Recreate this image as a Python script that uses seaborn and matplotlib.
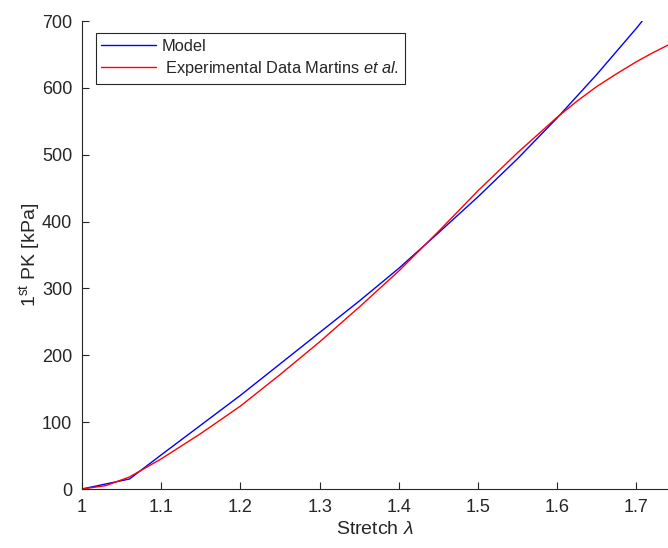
import numpy as np
import pandas as pd
import matplotlib
matplotlib.use("Agg")
import matplotlib.pyplot as plt
import seaborn as sns

# Model curve (blue)
model_stretch = [1.0, 1.06, 1.1, 1.2, 1.3, 1.35, 1.4, 1.45, 1.5, 1.55, 1.6, 1.65, 1.7, 1.7075]
model_pk = [0, 15, 51, 140, 234, 281, 330, 383, 437, 494, 555, 620, 689, 700]

# Experimental data (red)
exp_stretch = [1.0, 1.03, 1.06, 1.1, 1.15, 1.2, 1.25, 1.3, 1.35, 1.4, 1.45, 1.5,
               1.55, 1.6, 1.625, 1.65, 1.675, 1.7, 1.72, 1.74]
exp_pk = [0, 5, 18, 45, 83, 124, 171, 220, 272, 326, 385, 446,
          503, 556, 580, 602, 621, 639, 652, 664]

xticks = [1, 1.1, 1.2, 1.3, 1.4, 1.5, 1.6, 1.7]
xtick_labels = ["1", "1.1", "1.2", "1.3", "1.4", "1.5", "1.6", "1.7"]
yticks = [0, 100, 200, 300, 400, 500, 600, 700]

sns.set_style("ticks")
plt.rcParams["font.family"] = ["Liberation Sans", "DejaVu Sans"]
plt.rcParams["mathtext.fontset"] = "custom"
plt.rcParams["mathtext.rm"] = "Liberation Sans"
plt.rcParams["mathtext.it"] = "Liberation Sans:italic"

fig = plt.figure(figsize=(6.68, 5.48), dpi=100)
ax = fig.add_axes([82 / 668, (548 - 489) / 548, 586 / 668, 468 / 548])

df_model = pd.DataFrame({"x": model_stretch, "y": model_pk})
df_exp = pd.DataFrame({"x": exp_stretch, "y": exp_pk})

sns.lineplot(data=df_model, x="x", y="y", ax=ax, color=(0, 0, 1), lw=1.0,
             sort=False, label="Model")
sns.lineplot(data=df_exp, x="x", y="y", ax=ax, color=(1, 0, 0), lw=1.0,
             sort=False, label=r" Experimental Data Martins $\it{et\ al.}$")

ax.set_xlim(1, 1.74)
ax.set_ylim(0, 700)
ax.set_xticks(xticks)
ax.set_xticklabels(xtick_labels)
ax.set_yticks(yticks)

dark = "#262626"
for s in ["top", "right"]:
    ax.spines[s].set_visible(False)
for s in ["left", "bottom"]:
    ax.spines[s].set_color(dark)
    ax.spines[s].set_linewidth(0.8)
ax.tick_params(axis="both", direction="in", length=5, width=0.8,
               colors=dark, labelsize=13, pad=7)

ax.set_xlabel(r"Stretch $\lambda$", fontsize=14, color=dark, labelpad=4)
ax.set_ylabel(r"1$^{\rm st}$ PK [kPa]", fontsize=14, color=dark, labelpad=-1)

leg = ax.legend(loc="upper left", bbox_to_anchor=((95.7 - 82) / 586, (489 - 33.3) / 468),
                borderaxespad=0, fontsize=11.8, frameon=True, fancybox=False,
                handlelength=3.3, handletextpad=0.35, borderpad=0.35,
                labelspacing=0.3)
leg.get_frame().set_edgecolor(dark)
leg.get_frame().set_linewidth(0.8)
leg.get_frame().set_alpha(1)

fig.savefig("out.png", dpi=100)
